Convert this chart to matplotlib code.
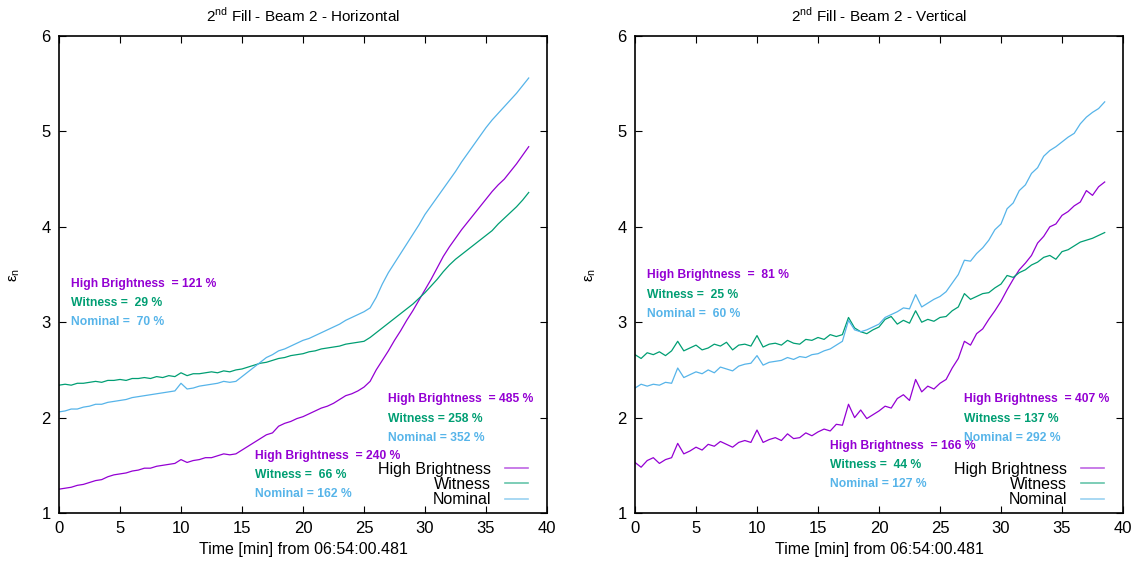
import matplotlib
matplotlib.use("Agg")
import matplotlib.pyplot as plt

plt.rcParams['font.family'] = ['Liberation Sans', 'DejaVu Sans']
plt.rcParams['mathtext.fontset'] = 'custom'
plt.rcParams['mathtext.rm'] = 'Liberation Sans'

# sampling every 0.5 min
t_step = 0.5
n_points = 78
time_min = [i * t_step for i in range(n_points)]

# 2nd fill, beam 2, horizontal
h_high_brightness = [
    1.25, 1.26, 1.27, 1.29, 1.30, 1.32, 1.34, 1.35, 1.38, 1.40,
    1.41, 1.42, 1.44, 1.45, 1.47, 1.47, 1.49, 1.50, 1.51, 1.52,
    1.56, 1.53, 1.55, 1.56, 1.58, 1.58, 1.60, 1.62, 1.61, 1.62,
    1.66, 1.70, 1.74, 1.78, 1.82, 1.84, 1.91, 1.94, 1.96, 1.99,
    2.01, 2.04, 2.07, 2.10, 2.12, 2.15, 2.19, 2.23, 2.25, 2.28,
    2.32, 2.38, 2.50, 2.60, 2.70, 2.81, 2.91, 3.02, 3.12, 3.23,
    3.34, 3.45, 3.57, 3.69, 3.79, 3.88, 3.97, 4.05, 4.13, 4.21,
    4.29, 4.37, 4.44, 4.50, 4.58, 4.66, 4.75, 4.84]
h_witness = [
    2.34, 2.35, 2.34, 2.36, 2.36, 2.37, 2.38, 2.37, 2.39, 2.39,
    2.40, 2.39, 2.41, 2.41, 2.42, 2.41, 2.43, 2.42, 2.44, 2.43,
    2.47, 2.44, 2.46, 2.46, 2.47, 2.48, 2.47, 2.49, 2.48, 2.50,
    2.51, 2.53, 2.55, 2.57, 2.58, 2.60, 2.62, 2.63, 2.65, 2.66,
    2.67, 2.69, 2.70, 2.72, 2.73, 2.74, 2.75, 2.77, 2.78, 2.79,
    2.80, 2.84, 2.89, 2.94, 2.99, 3.04, 3.09, 3.14, 3.19, 3.25,
    3.31, 3.38, 3.45, 3.53, 3.60, 3.66, 3.71, 3.76, 3.81, 3.86,
    3.91, 3.96, 4.03, 4.09, 4.15, 4.21, 4.28, 4.36]
h_nominal = [
    2.06, 2.07, 2.09, 2.09, 2.11, 2.12, 2.14, 2.14, 2.16, 2.17,
    2.18, 2.19, 2.21, 2.22, 2.23, 2.24, 2.25, 2.26, 2.27, 2.28,
    2.36, 2.30, 2.31, 2.33, 2.34, 2.35, 2.36, 2.38, 2.37, 2.38,
    2.43, 2.48, 2.53, 2.58, 2.63, 2.66, 2.70, 2.72, 2.75, 2.78,
    2.81, 2.83, 2.86, 2.89, 2.92, 2.95, 2.98, 3.02, 3.05, 3.08,
    3.11, 3.15, 3.26, 3.40, 3.52, 3.62, 3.72, 3.82, 3.92, 4.02,
    4.13, 4.22, 4.31, 4.40, 4.49, 4.58, 4.68, 4.77, 4.86, 4.95,
    5.04, 5.12, 5.19, 5.26, 5.33, 5.40, 5.48, 5.56]

# 2nd fill, beam 2, vertical
v_high_brightness = [
    1.53, 1.48, 1.55, 1.58, 1.52, 1.56, 1.58, 1.73, 1.62, 1.65,
    1.69, 1.66, 1.72, 1.70, 1.75, 1.72, 1.69, 1.74, 1.76, 1.74,
    1.87, 1.74, 1.77, 1.79, 1.76, 1.83, 1.78, 1.79, 1.84, 1.81,
    1.85, 1.88, 1.86, 1.93, 1.92, 2.14, 2.00, 2.08, 1.99, 2.03,
    2.07, 2.12, 2.10, 2.20, 2.24, 2.18, 2.40, 2.27, 2.33, 2.30,
    2.36, 2.40, 2.52, 2.62, 2.80, 2.76, 2.88, 2.93, 3.03, 3.12,
    3.22, 3.34, 3.45, 3.55, 3.62, 3.70, 3.83, 3.90, 4.00, 4.03,
    4.12, 4.16, 4.22, 4.26, 4.38, 4.33, 4.42, 4.47]
v_witness = [
    2.66, 2.62, 2.68, 2.66, 2.69, 2.65, 2.70, 2.80, 2.70, 2.73,
    2.76, 2.71, 2.73, 2.77, 2.75, 2.79, 2.71, 2.76, 2.77, 2.75,
    2.86, 2.74, 2.77, 2.78, 2.76, 2.81, 2.78, 2.77, 2.82, 2.81,
    2.84, 2.82, 2.87, 2.85, 2.87, 3.05, 2.94, 2.90, 2.88, 2.92,
    2.95, 3.03, 3.06, 2.98, 3.02, 2.99, 3.12, 3.00, 3.03, 3.01,
    3.05, 3.06, 3.12, 3.16, 3.30, 3.24, 3.27, 3.30, 3.31, 3.36,
    3.40, 3.49, 3.47, 3.52, 3.55, 3.60, 3.63, 3.68, 3.70, 3.66,
    3.74, 3.76, 3.80, 3.84, 3.86, 3.88, 3.91, 3.94]
v_nominal = [
    2.31, 2.35, 2.33, 2.35, 2.34, 2.37, 2.36, 2.52, 2.42, 2.45,
    2.48, 2.46, 2.50, 2.47, 2.53, 2.51, 2.49, 2.54, 2.56, 2.57,
    2.65, 2.55, 2.58, 2.59, 2.60, 2.63, 2.61, 2.64, 2.63, 2.66,
    2.67, 2.70, 2.72, 2.76, 2.80, 3.02, 2.92, 2.90, 2.92, 2.95,
    2.98, 3.05, 3.08, 3.11, 3.15, 3.14, 3.29, 3.16, 3.20, 3.24,
    3.27, 3.32, 3.41, 3.50, 3.65, 3.64, 3.72, 3.78, 3.86, 3.97,
    4.03, 4.19, 4.25, 4.38, 4.44, 4.56, 4.62, 4.74, 4.80, 4.84,
    4.89, 4.94, 4.98, 5.08, 5.15, 5.20, 5.24, 5.31]

beam_names = ["High Brightness", "Witness", "Nominal"]
beam_colors = ["#9400d3", "#009e73", "#56b4e9"]

# growth percentages shown as labels: (start, middle, end) of the fill
h_growth_start = ["121", " 29", " 70"]
h_growth_mid = ["240", " 66", "162"]
h_growth_end = ["485", "258", "352"]
v_growth_start = [" 81", " 25", " 60"]
v_growth_mid = ["166", " 44", "127"]
v_growth_end = ["407", "137", "292"]


def label_block(ax, x, y_top, growth):
    texts = [f"High Brightness  = {growth[0]} %",
             f"Witness = {growth[1]} %",
             f"Nominal = {growth[2]} %"]
    for i, (txt, col) in enumerate(zip(texts, beam_colors)):
        ax.text(x, y_top - 0.2 * i, txt, color=col, fontsize=8.7,
                fontweight="bold", ha="left", va="center")


fig = plt.figure(figsize=(11.41, 5.64), dpi=100)
ax_h = fig.add_axes([59 / 1141, 0.0904, 488 / 1141, 0.8457])
ax_v = fig.add_axes([635 / 1141, 0.0904, 488 / 1141, 0.8457])

panels = [
    (ax_h, "Horizontal", [h_high_brightness, h_witness, h_nominal],
     [(1.0, 3.40, h_growth_start), (16.1, 1.595, h_growth_mid), (27.0, 2.19, h_growth_end)]),
    (ax_v, "Vertical", [v_high_brightness, v_witness, v_nominal],
     [(1.0, 3.49, v_growth_start), (16.0, 1.70, v_growth_mid), (27.0, 2.19, v_growth_end)]),
]

for ax, plane, series, blocks in panels:
    for name, col, vals in zip(beam_names, beam_colors, series):
        ax.plot(time_min, vals, color=col, lw=0.9, label=name)
    for x, y, growth in blocks:
        label_block(ax, x, y, growth)

    ax.set_xlim(0, 40)
    ax.set_ylim(1, 6)
    ax.set_xticks(range(0, 41, 5))
    ax.set_yticks(range(1, 7))
    ax.tick_params(direction="in", top=True, right=True, length=5, width=0.8,
                   labelsize=12, pad=6)
    for sp in ax.spines.values():
        sp.set_linewidth(1.2)
    ax.set_title(r"2$^{\mathrm{nd}}$ Fill - Beam 2 - " + plane, fontsize=11, pad=10)
    ax.set_xlabel("Time [min] from 06:54:00.481", fontsize=11.5, labelpad=4)
    ax.set_ylabel(r"ε$_{\mathrm{n}}$", fontsize=11, labelpad=14)

    leg = ax.legend(loc="lower right", frameon=False, markerfirst=False,
                    fontsize=11.5, handlelength=1.4, handletextpad=0.9,
                    labelspacing=0.02, borderaxespad=0.2,
                    bbox_to_anchor=(0.98, -0.008))
    for h in leg.get_lines():
        h.set_alpha(0.6)
        h.set_linewidth(1.2)

fig.savefig("out.png", dpi=100)
